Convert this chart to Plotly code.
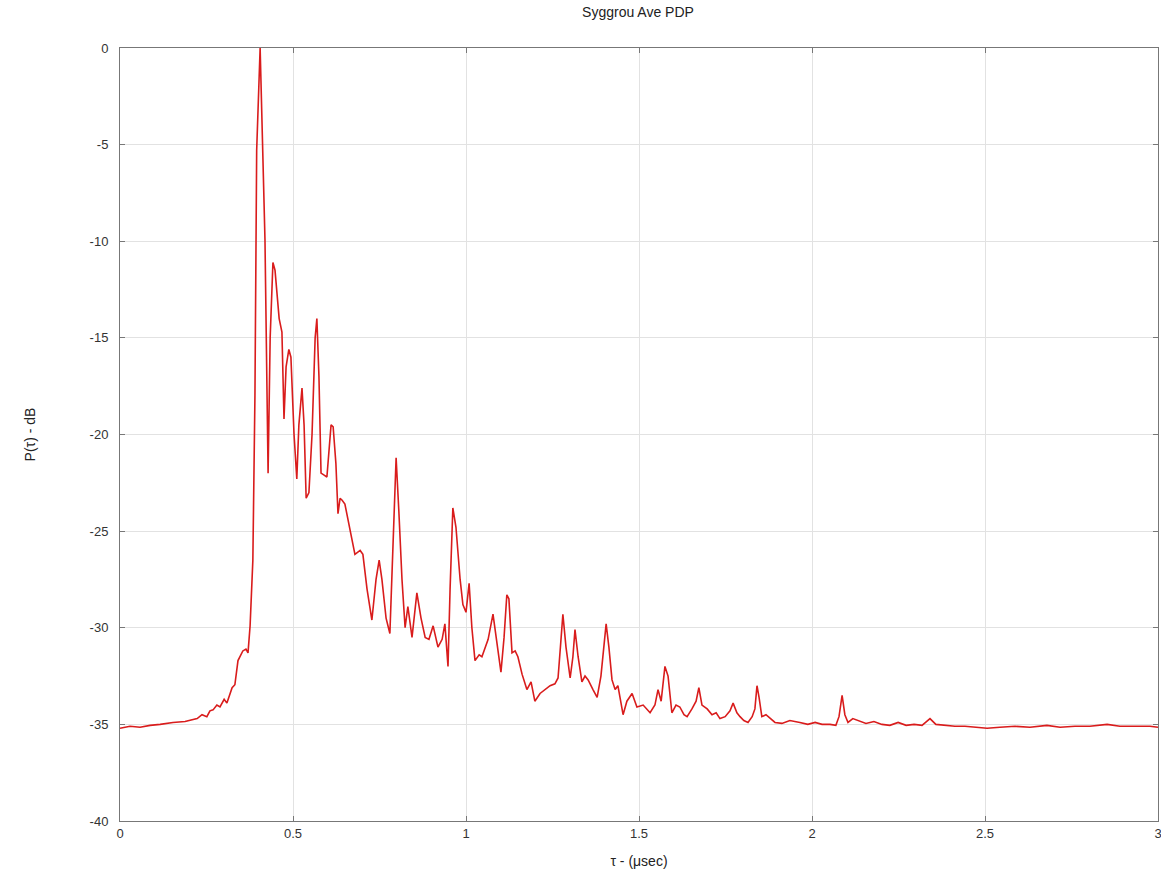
import plotly.graph_objects as go

# Delay axis (microseconds) and received power (dB)
tau_us = [
    0.000, 0.029, 0.058, 0.087, 0.116, 0.153, 0.188, 0.223, 0.237, 0.251,
    0.260, 0.269, 0.280, 0.289, 0.301, 0.309, 0.324, 0.332, 0.341, 0.355,
    0.364, 0.370, 0.376, 0.384, 0.390, 0.395, 0.405, 0.413, 0.419, 0.428,
    0.434, 0.442, 0.448, 0.460, 0.468, 0.474, 0.480, 0.488, 0.494, 0.503,
    0.511, 0.517, 0.526, 0.532, 0.538, 0.546, 0.555, 0.564, 0.569, 0.575,
    0.581, 0.590, 0.598, 0.610, 0.616, 0.624, 0.630, 0.636, 0.642, 0.650,
    0.659, 0.671, 0.679, 0.694, 0.702, 0.714, 0.728, 0.740, 0.749, 0.757,
    0.769, 0.780, 0.789, 0.798, 0.806, 0.815, 0.824, 0.832, 0.844, 0.858,
    0.870, 0.882, 0.893, 0.905, 0.919, 0.931, 0.939, 0.948, 0.954, 0.962,
    0.971, 0.983, 0.991, 1.000, 1.009, 1.017, 1.026, 1.038, 1.046, 1.055,
    1.064, 1.078, 1.090, 1.101, 1.110, 1.118, 1.124, 1.133, 1.142, 1.150,
    1.162, 1.176, 1.188, 1.199, 1.214, 1.228, 1.243, 1.257, 1.266, 1.275,
    1.280, 1.289, 1.301, 1.309, 1.315, 1.324, 1.335, 1.344, 1.353, 1.367,
    1.379, 1.390, 1.399, 1.405, 1.413, 1.422, 1.431, 1.439, 1.454, 1.465,
    1.480, 1.494, 1.512, 1.532, 1.546, 1.555, 1.564, 1.575, 1.584, 1.595,
    1.607, 1.618, 1.630, 1.639, 1.653, 1.665, 1.673, 1.682, 1.697, 1.711,
    1.723, 1.734, 1.749, 1.763, 1.772, 1.783, 1.792, 1.803, 1.815, 1.827,
    1.835, 1.841, 1.847, 1.855, 1.867, 1.879, 1.893, 1.913, 1.936, 1.965,
    1.988, 2.009, 2.029, 2.052, 2.069, 2.078, 2.087, 2.095, 2.104, 2.118,
    2.133, 2.156, 2.179, 2.202, 2.225, 2.249, 2.272, 2.295, 2.318, 2.341,
    2.358, 2.384, 2.413, 2.442, 2.471, 2.506, 2.543, 2.587, 2.630, 2.679,
    2.717, 2.760, 2.803, 2.853, 2.890, 2.933, 2.977, 3.000,
]

power_db = [
    -35.2, -35.1, -35.15, -35.05, -35.0, -34.9, -34.85, -34.7, -34.5, -34.6,
    -34.3, -34.25, -34.0, -34.1, -33.7, -33.9, -33.1, -32.95, -31.7, -31.2,
    -31.1, -31.3, -29.9, -26.5, -18.0, -5.3, 0.0, -5.6, -9.9, -22.0,
    -15.0, -11.1, -11.5, -14.0, -14.7, -19.2, -16.5, -15.6, -16.0, -20.0,
    -22.3, -19.5, -17.6, -19.5, -23.3, -23.0, -20.0, -15.0, -14.0, -17.0,
    -22.0, -22.1, -22.2, -19.5, -19.6, -21.5, -24.1, -23.3, -23.4, -23.6,
    -24.4, -25.6, -26.2, -26.0, -26.2, -28.0, -29.6, -27.5, -26.5, -27.5,
    -29.5, -30.3, -26.0, -21.2, -24.0, -27.5, -30.0, -28.9, -30.5, -28.2,
    -29.5, -30.5, -30.6, -29.9, -31.0, -30.6, -29.8, -32.0, -28.0, -23.8,
    -24.8, -27.5, -28.8, -29.2, -27.7, -30.0, -31.7, -31.4, -31.5, -31.0,
    -30.6, -29.3, -31.0, -32.3, -30.5, -28.3, -28.5, -31.3, -31.2, -31.5,
    -32.4, -33.2, -32.8, -33.8, -33.4, -33.2, -33.0, -32.9, -32.6, -30.5,
    -29.3, -31.0, -32.6, -31.5, -30.1, -31.5, -32.8, -32.5, -32.7, -33.2,
    -33.6, -32.5, -30.8, -29.8, -31.0, -32.7, -33.2, -33.0, -34.5, -33.8,
    -33.4, -34.1, -34.0, -34.4, -34.0, -33.2, -33.8, -32.0, -32.5, -34.4,
    -34.0, -34.1, -34.5, -34.6, -34.2, -33.8, -33.1, -34.0, -34.2, -34.5,
    -34.4, -34.7, -34.6, -34.3, -33.9, -34.4, -34.6, -34.8, -34.9, -34.6,
    -34.2, -33.0, -33.6, -34.6, -34.5, -34.7, -34.9, -34.95, -34.8, -34.9,
    -35.0, -34.9, -35.0, -35.0, -35.05, -34.6, -33.5, -34.5, -34.9, -34.7,
    -34.8, -34.95, -34.85, -35.0, -35.05, -34.9, -35.05, -35.0, -35.05, -34.7,
    -35.0, -35.05, -35.1, -35.1, -35.15, -35.2, -35.15, -35.1, -35.15, -35.05,
    -35.15, -35.1, -35.1, -35.0, -35.1, -35.1, -35.1, -35.15,
]

x_ticks = [0, 0.5, 1, 1.5, 2, 2.5, 3]
x_tick_labels = ["0", "0.5", "1", "1.5", "2", "2.5", "3"]
y_ticks = [0, -5, -10, -15, -20, -25, -30, -35, -40]
y_tick_labels = ["0", "-5", "-10", "-15", "-20", "-25", "-30", "-35", "-40"]

FONT = "Liberation Sans, Arial, Helvetica, sans-serif"

fig = go.Figure()
fig.add_trace(go.Scatter(
    x=tau_us, y=power_db, mode="lines",
    line=dict(color="#d91c1c", width=1.6),
    showlegend=False,
))

axis_common = dict(
    showline=True, linecolor="#777777", linewidth=1,
    mirror="ticks", ticks="inside", ticklen=5, tickcolor="#777777",
    showgrid=True, gridcolor="#e2e2e2", gridwidth=1,
    zeroline=False, automargin=False,
    ticklabeloverflow="allow",
    tickfont=dict(family=FONT, size=13, color="#333333"),
)

fig.update_layout(
    width=1161, height=876,
    margin=dict(l=120, r=3, t=48, b=55),
    paper_bgcolor="white", plot_bgcolor="white",
    title=dict(text="Syggrou Ave PDP", x=0.5495, xanchor="center",
               y=0.992, yanchor="top",
               font=dict(family=FONT, size=14, color="#222222")),
    xaxis=dict(range=[0, 3], tickvals=x_ticks, ticktext=x_tick_labels,
               title=dict(text="τ - (μsec)", standoff=16,
                          font=dict(family=FONT, size=14, color="#222222")),
               **axis_common),
    yaxis=dict(range=[-40, 0], tickvals=y_ticks, ticktext=y_tick_labels,
               ticklabelstandoff=8,
               title=dict(text="P(τ) - dB", standoff=50,
                          font=dict(family=FONT, size=14, color="#222222")),
               **axis_common),
)

fig.write_html("out.html")
